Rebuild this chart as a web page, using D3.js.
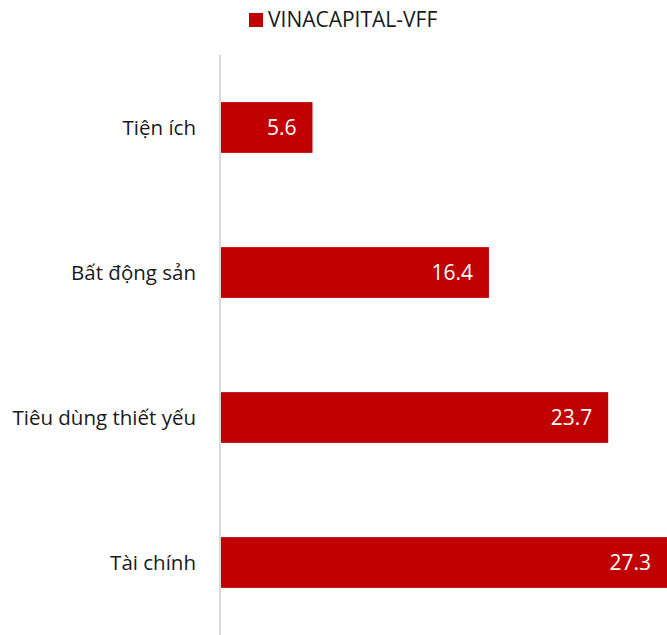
<!DOCTYPE html>
<html>
<head>
<meta charset="utf-8">
<script src="https://cdn.jsdelivr.net/npm/d3@7"></script>
<style>
  body { margin:0; background:#fff; }
  text { font-family: "Open Sans", "Noto Sans", sans-serif; }
</style>
</head>
<body>
<div class="canvas"></div>
<script>
var categories = ['Tiện ích', 'Bất động sản', 'Tiêu dùng thiết yếu', 'Tài chính'];
var values = [5.6, 16.4, 23.7, 27.3];
var seriesName = 'VINACAPITAL-VFF';

var W = 667, H = 635;
var margin = {t:55, r:0, b:0, l:221};

var svg = d3.select('.canvas').append('svg')
    .attr('width', W)
    .attr('height', H);

var x = d3.scaleLinear().domain([0, 27.3]).range([margin.l, W]);
var y = d3.scaleBand().domain(categories).range([margin.t, H]).paddingInner(0.65).paddingOuter(0.325);

// bars
svg.selectAll('rect.bar')
    .data(values)
    .enter().append('rect')
    .attr('class', 'bar')
    .attr('x', x(0))
    .attr('y', function(d,i){ return y(categories[i]); })
    .attr('width', function(d){ return x(d) - x(0); })
    .attr('height', y.bandwidth())
    .style('fill', '#c00000');

// axis line
svg.append('line')
    .attr('x1', 220).attr('x2', 220)
    .attr('y1', margin.t).attr('y2', H)
    .style('stroke', '#d9d9d9')
    .style('stroke-width', 2);

// category labels
svg.selectAll('text.cat')
    .data(categories)
    .enter().append('text')
    .attr('class', 'cat')
    .attr('x', 196)
    .attr('y', function(d){ return y(d) + y.bandwidth()/2; })
    .attr('dy', '0.35em')
    .attr('text-anchor', 'end')
    .style('font-size', '20.5px')
    .style('fill', '#1a1a1a')
    .text(function(d){ return d; });

// value labels
svg.selectAll('text.val')
    .data(values)
    .enter().append('text')
    .attr('class', 'val')
    .attr('x', function(d){ return x(d) - 16; })
    .attr('y', function(d,i){ return y(categories[i]) + y.bandwidth()/2; })
    .attr('dy', '0.35em')
    .attr('text-anchor', 'end')
    .style('font-size', '21px')
    .style('fill', '#fff')
    .text(function(d){ return d.toFixed(1); });

// legend
var lg = svg.append('g').attr('transform', 'translate(249,13)');
lg.append('rect').attr('width', 14).attr('height', 14).style('fill', '#c00000');
lg.append('text')
    .attr('x', 19).attr('y', 7)
    .attr('dy', '0.35em')
    .style('font-size', '21px')
    .style('fill', '#1a1a1a')
    .text(seriesName);
</script>
</body>
</html>
